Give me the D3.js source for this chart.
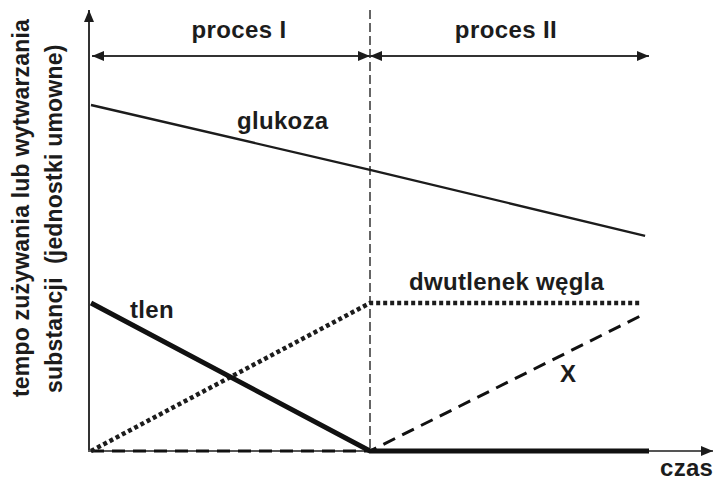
<!DOCTYPE html>
<html>
<head>
<meta charset="utf-8">
<script src="https://cdn.jsdelivr.net/npm/d3@7"></script>
<style>
  body { margin: 0; background: #fff; }
  text { font-family: "Liberation Sans", Arial, sans-serif; font-weight: bold; fill: #1c1c1c; }
</style>
</head>
<body>
<div id="plot"></div>
<script>
// time in process units (0 = start, 1 = end of proces I, 2 = end of proces II)
const processes = ["proces I", "proces II"];
const processBounds = [[0, 1], [1, 2]];

// rate of use / production (arbitrary units)
const glukoza = [[0, 86.5], [1, 70.3], [1.986, 53.8]];
const tlen = [[0, 37], [1, 0], [2, 0]];
const dwutlenek = [[0, 0], [1, 37], [1.97, 37]];
const substX = [[0, 0], [1, 0], [1.976, 34]];

const width = 714, height = 483;

const x = d3.scaleLinear().domain([0, 2]).range([91, 649]);
const y = d3.scaleLinear().domain([0, 100]).range([451, 51]);

const svg = d3.select("div#plot").append("svg")
    .attr("width", width)
    .attr("height", height);

const defs = svg.append("defs");
defs.append("marker")
    .attr("id", "arrow")
    .attr("viewBox", "0 0 12 10")
    .attr("refX", 12).attr("refY", 5)
    .attr("markerWidth", 12).attr("markerHeight", 10)
    .attr("markerUnits", "userSpaceOnUse")
    .attr("orient", "auto-start-reverse")
  .append("path")
    .attr("d", "M0,0 L12,5 L0,10 Z")
    .attr("fill", "#1c1c1c");

// axes
svg.append("line")
    .attr("x1", x(0) - 2).attr("y1", y(0) + 1)
    .attr("x2", x(0) - 2).attr("y2", 10)
    .attr("stroke", "#333").attr("stroke-width", 2)
    .attr("marker-end", "url(#arrow)");

svg.append("line")
    .attr("x1", x(0) - 3).attr("y1", y(0))
    .attr("x2", 713).attr("y2", y(0))
    .attr("stroke", "#555").attr("stroke-width", 2)
    .attr("marker-end", "url(#arrow)");

// process boundary
svg.append("line")
    .attr("x1", x(1)).attr("y1", 10)
    .attr("x2", x(1)).attr("y2", y(0))
    .attr("stroke", "#333").attr("stroke-width", 1.5)
    .attr("stroke-dasharray", "9,4");

// process arrows
svg.selectAll(".proc")
  .data(processBounds)
  .enter().append("line")
    .attr("class", "proc")
    .attr("x1", d => x(d[0]) + (d[0] === 0 ? 1 : 0))
    .attr("x2", d => x(d[1]))
    .attr("y1", 56).attr("y2", 56)
    .attr("stroke", "#333").attr("stroke-width", 2)
    .attr("marker-start", "url(#arrow)")
    .attr("marker-end", "url(#arrow)");

const procLabelX = [239, 506];
svg.selectAll(".proc-label")
  .data(processes)
  .enter().append("text")
    .attr("class", "proc-label")
    .attr("x", (d, i) => procLabelX[i])
    .attr("y", 38)
    .attr("text-anchor", "middle")
    .attr("font-size", 24)
    .attr("letter-spacing", 0.4)
    .text(d => d);

const line = d3.line().x(d => x(d[0])).y(d => y(d[1]));

svg.append("path").datum(glukoza)
    .attr("d", line)
    .attr("fill", "none").attr("stroke", "#1c1c1c").attr("stroke-width", 2.4);

svg.append("path").datum(substX)
    .attr("d", line)
    .attr("fill", "none").attr("stroke", "#111").attr("stroke-width", 3)
    .attr("stroke-dasharray", "13,8");

svg.append("path").datum(dwutlenek)
    .attr("d", line)
    .attr("fill", "none").attr("stroke", "#1c1c1c").attr("stroke-width", 4.5)
    .attr("stroke-dasharray", "4,3");

svg.append("path").datum(tlen)
    .attr("d", line)
    .attr("fill", "none").attr("stroke", "#111").attr("stroke-width", 5);

// series labels
const labels = [
  { text: "glukoza", x: 237, y: 129 },
  { text: "tlen", x: 130, y: 318 },
  { text: "dwutlenek węgla", x: 409, y: 290 },
  { text: "X", x: 560, y: 382 },
  { text: "czas", x: 660, y: 476 }
];

svg.selectAll(".lab")
  .data(labels)
  .enter().append("text")
    .attr("class", "lab")
    .attr("x", d => d.x)
    .attr("y", d => d.y)
    .attr("font-size", 24)
    .attr("letter-spacing", 0.3)
    .text(d => d.text);

// y axis title
svg.append("text")
    .attr("transform", "translate(29,397) rotate(-90)")
    .attr("font-size", 23)
    .attr("letter-spacing", 0.2)
    .text("tempo zużywania lub wytwarzania");

svg.append("text")
    .attr("transform", "translate(62,393) rotate(-90)")
    .attr("font-size", 23)
    .attr("letter-spacing", 0.2)
    .style("white-space", "pre")
    .text("substancji  (jednostki umowne)");
</script>
</body>
</html>
